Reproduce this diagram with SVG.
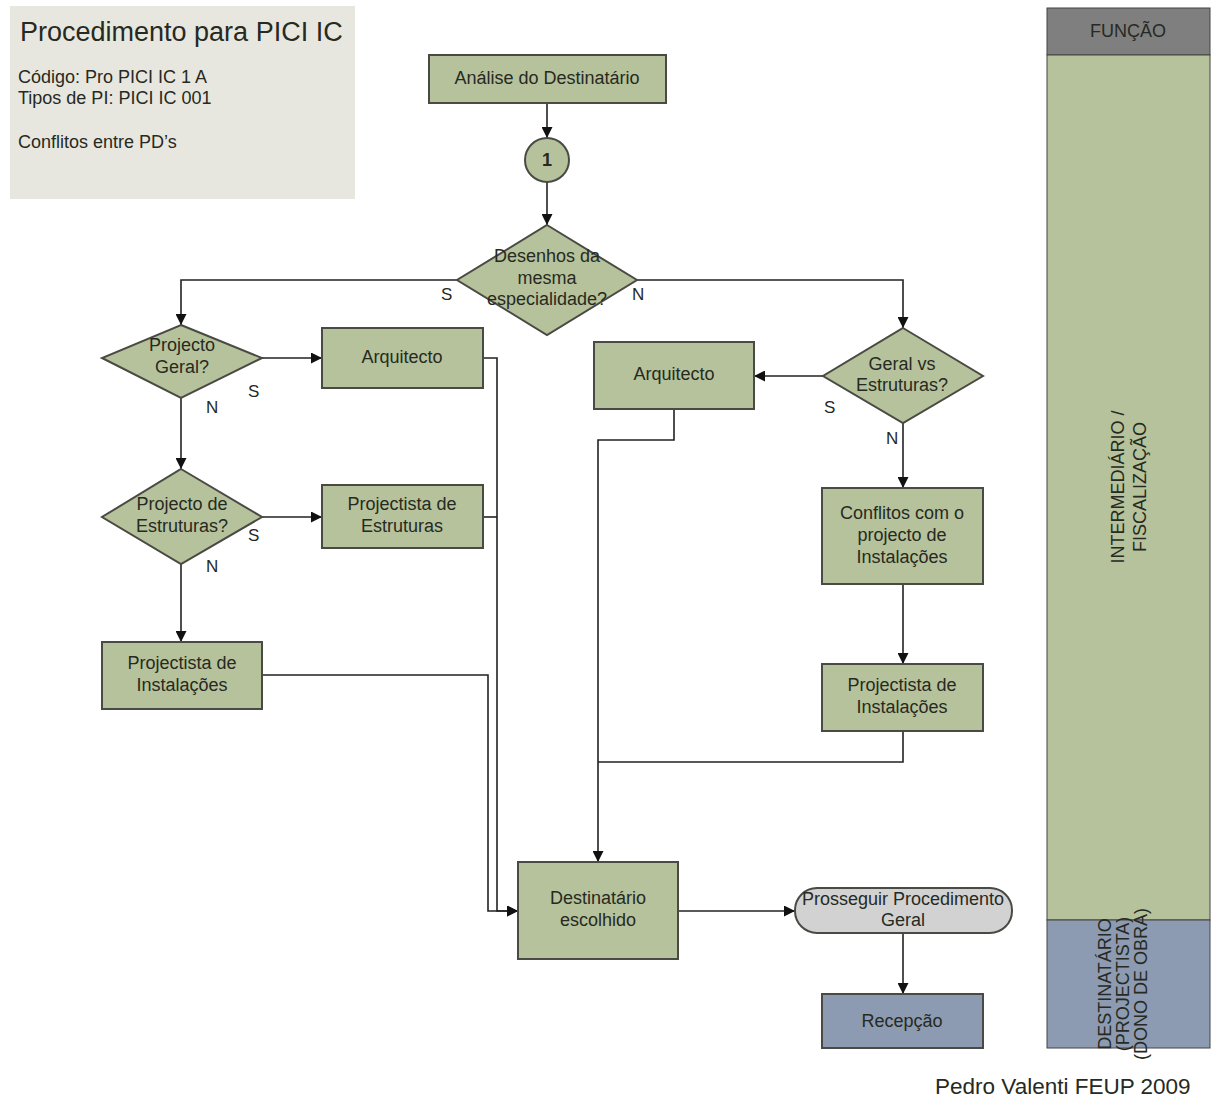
<svg xmlns="http://www.w3.org/2000/svg" width="1212" height="1100" viewBox="0 0 1212 1100">
<style>
text{font-family:"Liberation Sans",Arial,sans-serif;fill:#262a22}
.g{fill:#b6c29b;stroke:#4a4a44;stroke-width:2}
.t{font-size:18px;text-anchor:middle}
.l{font-size:17px}
.c{fill:none;stroke:#222;stroke-width:1.6}
.lane{font-size:18px;text-anchor:middle}
</style>
<defs>
<marker id="a" viewBox="0 0 10 10" refX="10" refY="5" markerWidth="11" markerHeight="11" markerUnits="userSpaceOnUse" orient="auto">
<path d="M0,0 L10,5 L0,10 z" fill="#111"/>
</marker>
</defs>
<rect width="1212" height="1100" fill="#fff"/>
<g id="header">
<rect x="10" y="6" width="345" height="193" fill="#e8e7df"/>
<text x="20" y="41" font-size="27">Procedimento para PICI IC</text>
<text x="18" y="83" font-size="18">Código: Pro PICI IC 1 A</text>
<text x="18" y="104" font-size="18">Tipos de PI: PICI IC 001</text>
<text x="18" y="148" font-size="18">Conflitos entre PD’s</text>
</g>
<g id="lanes">
<rect x="1047" y="8" width="163" height="47" fill="#7f7f7f" stroke="#444" stroke-width="1"/>
<text x="1128" y="37" class="lane">FUNÇÃO</text>
<rect x="1047" y="55" width="163" height="865" fill="#b6c29b" stroke="#444" stroke-width="1"/>
<text transform="translate(1124,487) rotate(-90)" class="lane"><tspan x="0" y="0">INTERMEDIÁRIO /</tspan><tspan x="0" y="22">FISCALIZAÇÃO</tspan></text>
<rect x="1047" y="920" width="163" height="128" fill="#8c9bb1" stroke="#444" stroke-width="1"/>
<text transform="translate(1111,984) rotate(-90)" class="lane"><tspan x="0" y="0">DESTINATÁRIO</tspan><tspan x="0" y="18">(PROJECTISTA)</tspan><tspan x="0" y="36">(DONO DE OBRA)</tspan></text>
</g>
<g id="connectors">
<path class="c" d="M547,103 V138" marker-end="url(#a)"/>
<path class="c" d="M547,182 V225" marker-end="url(#a)"/>
<path class="c" d="M457,280 H181 V325" marker-end="url(#a)"/>
<path class="c" d="M637,280 H903 V328" marker-end="url(#a)"/>
<path class="c" d="M262,358 H322" marker-end="url(#a)"/>
<path class="c" d="M181,398 V469" marker-end="url(#a)"/>
<path class="c" d="M262,517 H322" marker-end="url(#a)"/>
<path class="c" d="M181,564 V642" marker-end="url(#a)"/>
<path class="c" d="M823,376 H754" marker-end="url(#a)"/>
<path class="c" d="M903,423 V488" marker-end="url(#a)"/>
<path class="c" d="M903,584 V664" marker-end="url(#a)"/>
<path class="c" d="M903,731 V762 H598"/>
<path class="c" d="M674,409 V440 H598 V862" marker-end="url(#a)"/>
<path class="c" d="M483,358 H497 V911 H518" marker-end="url(#a)"/>
<path class="c" d="M483,517 H497"/>
<path class="c" d="M262,675 H488 V911 H518" marker-end="url(#a)"/>
<path class="c" d="M678,911 H795" marker-end="url(#a)"/>
<path class="c" d="M903,933 V994" marker-end="url(#a)"/>
<text x="441" y="300" class="l">S</text>
<text x="632" y="300" class="l">N</text>
<text x="248" y="397" class="l">S</text>
<text x="206" y="413" class="l">N</text>
<text x="248" y="541" class="l">S</text>
<text x="206" y="572" class="l">N</text>
<text x="824" y="413" class="l">S</text>
<text x="886" y="444" class="l">N</text>
</g>
<g id="analise">
<rect class="g" x="429" y="55" width="237" height="48"/>
<text class="t" x="547" y="84">Análise do Destinatário</text>
</g>
<g id="conector1">
<circle class="g" cx="547" cy="160" r="22"/>
<text class="t" x="547" y="166" font-weight="bold">1</text>
</g>
<g id="desenhos">
<polygon class="g" points="547,225 637,280 547,335 457,280"/>
<text class="t" x="547" y="262">Desenhos da</text>
<text class="t" x="547" y="284">mesma</text>
<text class="t" x="547" y="305">especialidade?</text>
</g>
<g id="projecto-geral">
<polygon class="g" points="181,325 262,358 181,398 102,358"/>
<text class="t" x="182" y="351">Projecto</text>
<text class="t" x="182" y="373">Geral?</text>
</g>
<g id="arquitecto-esq">
<rect class="g" x="322" y="328" width="161" height="60"/>
<text class="t" x="402" y="363">Arquitecto</text>
</g>
<g id="projecto-estruturas">
<polygon class="g" points="181,469 262,517 181,564 102,517"/>
<text class="t" x="182" y="510">Projecto de</text>
<text class="t" x="182" y="532">Estruturas?</text>
</g>
<g id="projectista-estruturas">
<rect class="g" x="322" y="485" width="161" height="63"/>
<text class="t" x="402" y="510">Projectista de</text>
<text class="t" x="402" y="532">Estruturas</text>
</g>
<g id="projectista-instalacoes-esq">
<rect class="g" x="102" y="642" width="160" height="67"/>
<text class="t" x="182" y="669">Projectista de</text>
<text class="t" x="182" y="691">Instalações</text>
</g>
<g id="geral-vs-estruturas">
<polygon class="g" points="903,328 983,376 903,423 823,376"/>
<text class="t" x="902" y="370">Geral vs</text>
<text class="t" x="902" y="391">Estruturas?</text>
</g>
<g id="arquitecto-dir">
<rect class="g" x="594" y="342" width="160" height="67"/>
<text class="t" x="674" y="380">Arquitecto</text>
</g>
<g id="conflitos">
<rect class="g" x="822" y="488" width="161" height="96"/>
<text class="t" x="902" y="519">Conflitos com o</text>
<text class="t" x="902" y="541">projecto de</text>
<text class="t" x="902" y="563">Instalações</text>
</g>
<g id="projectista-instalacoes-dir">
<rect class="g" x="822" y="664" width="161" height="67"/>
<text class="t" x="902" y="691">Projectista de</text>
<text class="t" x="902" y="713">Instalações</text>
</g>
<g id="destinatario">
<rect class="g" x="518" y="862" width="160" height="97"/>
<text class="t" x="598" y="904">Destinatário</text>
<text class="t" x="598" y="926">escolhido</text>
</g>
<g id="prosseguir">
<rect x="795" y="888" width="217" height="45" rx="22" fill="#d2d2d2" stroke="#4a4a44" stroke-width="2"/>
<text class="t" x="903" y="905">Prosseguir Procedimento</text>
<text class="t" x="903" y="926">Geral</text>
</g>
<g id="recepcao">
<rect x="822" y="994" width="161" height="54" fill="#8c9bb1" stroke="#4a4a44" stroke-width="2"/>
<text class="t" x="902" y="1027">Recepção</text>
</g>
<text x="935" y="1094" font-size="22.5" fill="#333">Pedro Valenti FEUP 2009</text>
</svg>
